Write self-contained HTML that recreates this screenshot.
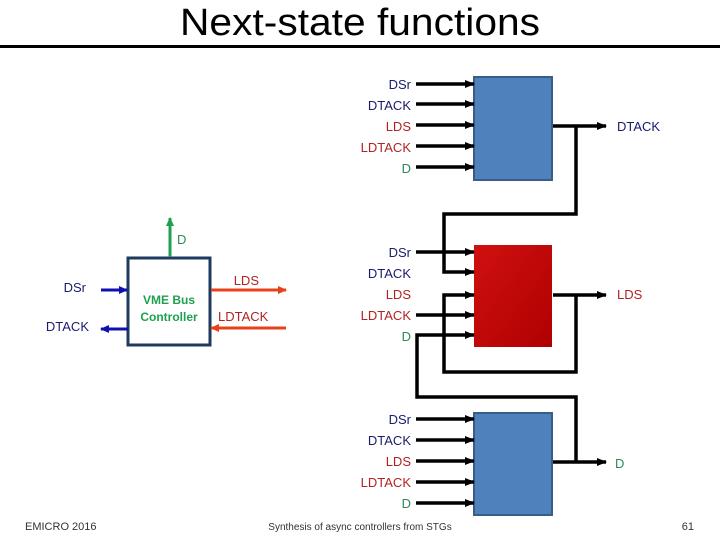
<!DOCTYPE html>
<html><head><style>
body{margin:0;width:720px;height:540px;background:#fff;overflow:hidden}
</style></head><body>
<svg width="720" height="540" xmlns="http://www.w3.org/2000/svg" font-family="Liberation Sans, sans-serif">
<defs>
<marker id="a" markerWidth="10" markerHeight="10" refX="9" refY="5" orient="auto" markerUnits="userSpaceOnUse"><path d="M0,1 L10,5 L0,9z" fill="#000"/></marker>
<marker id="b" markerWidth="9" markerHeight="9" refX="8" refY="4.5" orient="auto" markerUnits="userSpaceOnUse"><path d="M0,0.5 L9,4.5 L0,8.5z" fill="#1010b0"/></marker>
<marker id="o" markerWidth="9" markerHeight="9" refX="8" refY="4.5" orient="auto" markerUnits="userSpaceOnUse"><path d="M0,0.5 L9,4.5 L0,8.5z" fill="#e8401a"/></marker>
<marker id="g" markerWidth="9" markerHeight="9" refX="8" refY="4.5" orient="auto" markerUnits="userSpaceOnUse"><path d="M0,0.5 L9,4.5 L0,8.5z" fill="#1fa050"/></marker>
<linearGradient id="r" x1="0" y1="0" x2="1" y2="1"><stop offset="0" stop-color="#d01010"/><stop offset="1" stop-color="#b00000"/></linearGradient>
</defs>
<text x="180" y="35" font-size="38" textLength="360" lengthAdjust="spacingAndGlyphs">Next-state functions</text>
<line x1="0" y1="46.5" x2="720" y2="46.5" stroke="#000" stroke-width="3"/>

<rect x="128" y="258" width="82" height="87" fill="#fff" stroke="#1f3a5f" stroke-width="3"/>
<text x="169" y="304" text-anchor="middle" font-size="12" font-weight="bold" fill="#1fa050">VME Bus</text>
<text x="169" y="321" text-anchor="middle" font-size="12" font-weight="bold" fill="#1fa050">Controller</text>
<line x1="170" y1="257" x2="170" y2="218" stroke="#1fa050" stroke-width="3" marker-end="url(#g)"/>
<text x="177" y="244" font-size="13" fill="#2e8b57">D</text>
<line x1="101" y1="290" x2="127" y2="290" stroke="#1010b0" stroke-width="3" marker-end="url(#b)"/>
<text x="86" y="292" text-anchor="end" font-size="13" fill="#1a1a6e">DSr</text>
<line x1="128" y1="329" x2="101" y2="329" stroke="#1010b0" stroke-width="3" marker-end="url(#b)"/>
<text x="89" y="331" text-anchor="end" font-size="13" fill="#1a1a6e">DTACK</text>
<line x1="211" y1="290" x2="286" y2="290" stroke="#e8401a" stroke-width="3" marker-end="url(#o)"/>
<text x="259" y="285" text-anchor="end" font-size="13" fill="#b22222">LDS</text>
<line x1="286" y1="328" x2="211" y2="328" stroke="#e8401a" stroke-width="3" marker-end="url(#o)"/>
<text x="218" y="321" font-size="13" fill="#b22222">LDTACK</text>

<rect x="474" y="77" width="78" height="103" fill="#4f81bd" stroke="#385d8a" stroke-width="2"/>
<rect x="474" y="245" width="78" height="102" fill="url(#r)"/>
<rect x="474" y="413" width="78" height="102" fill="#4f81bd" stroke="#385d8a" stroke-width="2"/>

<g stroke="#000" stroke-width="3.5" fill="none">
<line x1="416" y1="84" x2="474" y2="84" marker-end="url(#a)"/>
<line x1="416" y1="104" x2="474" y2="104" marker-end="url(#a)"/>
<line x1="416" y1="125" x2="474" y2="125" marker-end="url(#a)"/>
<line x1="416" y1="146" x2="474" y2="146" marker-end="url(#a)"/>
<line x1="416" y1="167" x2="474" y2="167" marker-end="url(#a)"/>
<line x1="553" y1="126" x2="606" y2="126" marker-end="url(#a)"/>
<polyline points="576,126 576,214 444,214 444,272 474,272" marker-end="url(#a)"/>
<line x1="416" y1="252" x2="474" y2="252" marker-end="url(#a)"/>
<polyline points="576,295 576,372 444,372 444,295 474,295" marker-end="url(#a)"/>
<line x1="416" y1="315" x2="474" y2="315" marker-end="url(#a)"/>
<polyline points="576,462 576,397 417,397 417,335 474,335" marker-end="url(#a)"/>
<line x1="553" y1="295" x2="606" y2="295" marker-end="url(#a)"/>
<line x1="416" y1="419" x2="474" y2="419" marker-end="url(#a)"/>
<line x1="416" y1="440" x2="474" y2="440" marker-end="url(#a)"/>
<line x1="416" y1="461" x2="474" y2="461" marker-end="url(#a)"/>
<line x1="416" y1="482" x2="474" y2="482" marker-end="url(#a)"/>
<line x1="416" y1="503" x2="474" y2="503" marker-end="url(#a)"/>
<line x1="553" y1="462" x2="606" y2="462" marker-end="url(#a)"/>
</g>

<g font-size="13" text-anchor="end">
<text x="411" y="89" fill="#1a1a6e">DSr</text>
<text x="411" y="110" fill="#1a1a6e">DTACK</text>
<text x="411" y="131" fill="#b22222">LDS</text>
<text x="411" y="152" fill="#b22222">LDTACK</text>
<text x="411" y="173" fill="#2e8b57">D</text>
<text x="411" y="257" fill="#1a1a6e">DSr</text>
<text x="411" y="278" fill="#1a1a6e">DTACK</text>
<text x="411" y="299" fill="#b22222">LDS</text>
<text x="411" y="320" fill="#b22222">LDTACK</text>
<text x="411" y="341" fill="#2e8b57">D</text>
<text x="411" y="424" fill="#1a1a6e">DSr</text>
<text x="411" y="445" fill="#1a1a6e">DTACK</text>
<text x="411" y="466" fill="#b22222">LDS</text>
<text x="411" y="487" fill="#b22222">LDTACK</text>
<text x="411" y="508" fill="#2e8b57">D</text>
</g>
<text x="617" y="131" font-size="13" fill="#1a1a6e">DTACK</text>
<text x="617" y="299" font-size="13" fill="#b22222">LDS</text>
<text x="615" y="468" font-size="13" fill="#2e8b57">D</text>

<text x="25" y="530" font-size="11" fill="#333">EMICRO 2016</text>
<text x="360" y="530" font-size="10" text-anchor="middle" fill="#333">Synthesis of async controllers from STGs</text>
<text x="694" y="530" font-size="11" text-anchor="end" fill="#333">61</text>
</svg>
</body></html>
